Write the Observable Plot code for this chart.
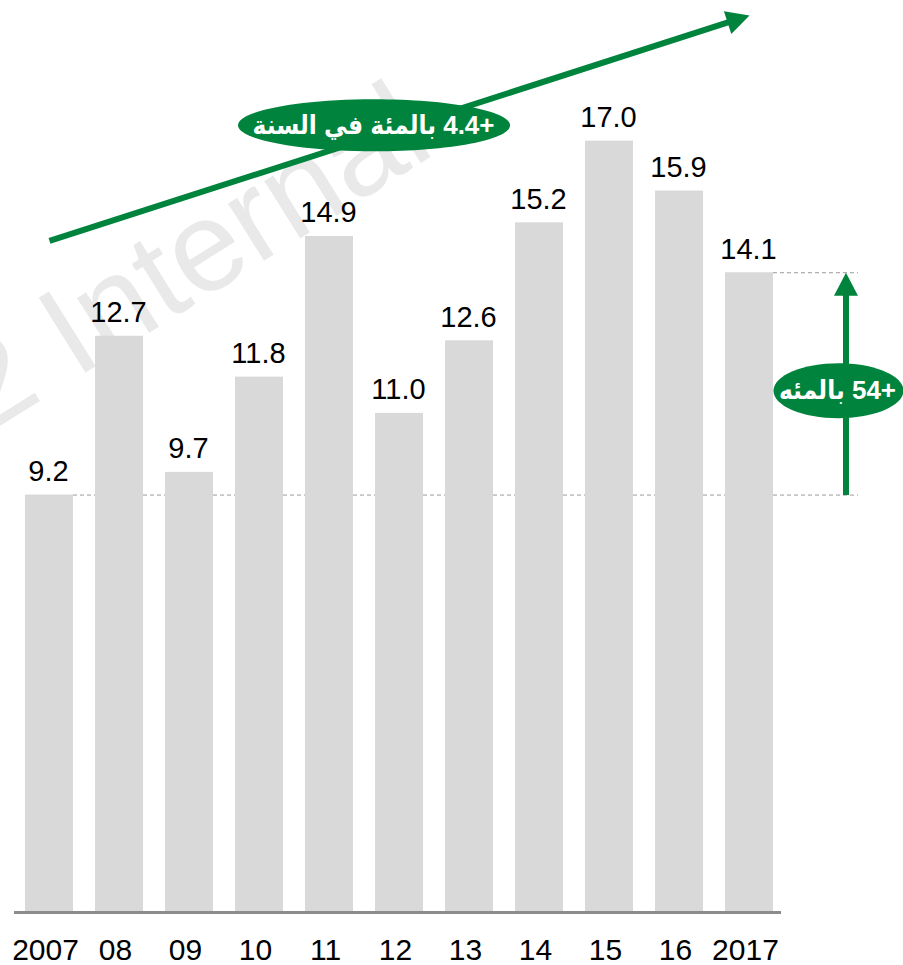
<!DOCTYPE html>
<html>
<head>
<meta charset="utf-8">
<script src="https://cdn.jsdelivr.net/npm/d3@7"></script>
<script src="https://cdn.jsdelivr.net/npm/@observablehq/plot@0.6"></script>
<style>
  html, body { margin: 0; padding: 0; background: #fff; }
  #chart svg { display: block; }
</style>
</head>
<body>
<div id="chart"></div>
<script>
// ---- data ----
const years = ["2007", "08", "09", "10", "11", "12", "13", "14", "15", "16", "2017"];
const values = [9.2, 12.7, 9.7, 11.8, 14.9, 11.0, 12.6, 15.2, 17.0, 15.9, 14.1];

// trend annotation (data units)
const trendLine = [{from: "2007", to: "2017", y1: 14.8, y2: 19.77}];
const trendLabel = [{x: "11", y: 17.35, text: "+4.4 بالمئة في السنة"}];

// growth annotation (first vs last year)
const growthLine = [{x: "2017", y1: values[0], y2: values[values.length - 1]}];
const growthLabel = [{x: "2017", y: 11.5, text: "+54 بالمئه"}];

const refLines = [
  {y: values[0], from: "2007", to: "2017"},
  {y: values[values.length - 1], from: "2017", to: "2017"}
];

const watermark = ["2 Internal"];

const data = years.map((year, i) => ({year, value: values[i]}));

// ---- styles ----
const green = "#00843d";
const font = "'Liberation Sans', Arial, 'DejaVu Sans Condensed', 'DejaVu Sans', sans-serif";

function ellipseSymbol(rx, ry) {
  const k = 0.5523;
  return {
    draw(ctx) {
      ctx.moveTo(rx, 0);
      ctx.bezierCurveTo(rx, ry * k, rx * k, ry, 0, ry);
      ctx.bezierCurveTo(-rx * k, ry, -rx, ry * k, -rx, 0);
      ctx.bezierCurveTo(-rx, -ry * k, -rx * k, -ry, 0, -ry);
      ctx.bezierCurveTo(rx * k, -ry, rx, -ry * k, rx, 0);
      ctx.closePath();
    }
  };
}
// arrow head with its tip at the origin, pointing up
const headSymbol = {
  draw(ctx) {
    ctx.moveTo(0, 0);
    ctx.lineTo(-12, 23);
    ctx.lineTo(12, 23);
    ctx.closePath();
  }
};

const chart = Plot.plot({
  width: 903,
  height: 965,
  marginLeft: 25,
  marginRight: 130,
  marginTop: 0,
  marginBottom: 53,
  style: {fontFamily: font, background: "#fff", overflow: "visible"},
  x: {domain: years, paddingInner: 0.314, paddingOuter: 0, round: false, axis: null},
  y: {domain: [0, 20.1], axis: null},
  marks: [
    Plot.text(watermark, {
      frameAnchor: "top-left", dx: 412, dy: 152, textAnchor: "end", lineAnchor: "bottom",
      rotate: -32, fontSize: 128, fill: "#e9e9e9", text: d => d
    }),
    Plot.ruleY(refLines, {
      y: "y", x1: "from", x2: "to", insetLeft: 48, insetRight: -85,
      stroke: "#9a9a9a", strokeWidth: 1, strokeDasharray: "4,3"
    }),
    Plot.barY(data, {x: "year", y: "value", fill: "#d9d9d9"}),
    Plot.ruleY([0], {stroke: "#8c8c8c", strokeWidth: 3, insetLeft: -11, insetRight: -8}),
    Plot.text(data, {
      x: "year", y: "value", text: d => d.value.toFixed(1),
      lineAnchor: "bottom", dy: -14, dx: -1, fontSize: 29, fill: "#000"
    }),
    Plot.text(years, {
      x: d => d, frameAnchor: "bottom", text: d => d,
      lineAnchor: "bottom", dy: 47, dx: -4, fontSize: 30, fill: "#000"
    }),
    // trend arrow
    Plot.arrow(trendLine, {
      x1: "from", y1: "y1", x2: "to", y2: "y2",
      stroke: green, strokeWidth: 6, headLength: 0, insetEnd: 12, strokeLinecap: "butt"
    }),
    Plot.dot(trendLine, {
      x: "to", y: "y2", symbol: headSymbol, rotate: 72, fill: green, stroke: "none", r: 10
    }),
    // growth arrow
    Plot.arrow(growthLine, {
      x1: "x", y1: "y1", x2: "x", y2: "y2", dx: 96.5,
      stroke: green, strokeWidth: 6, headLength: 0, insetEnd: 12, strokeLinecap: "butt"
    }),
    Plot.dot(growthLine, {
      x: "x", y: "y2", dx: 96.5, symbol: headSymbol, fill: green, stroke: "none", r: 10
    }),
    // labels in ellipses
    Plot.dot(trendLabel, {
      x: "x", y: "y", dx: 44.5, symbol: ellipseSymbol(136, 26), fill: green, stroke: "none", r: 10
    }),
    Plot.dot(growthLabel, {
      x: "x", y: "y", dx: 89, symbol: ellipseSymbol(65, 27.5), fill: green, stroke: "none", r: 10
    }),
    Plot.text(trendLabel, {
      x: "x", y: "y", dx: 44, text: "text", fill: "#fff", fontWeight: "bold", fontSize: 26,
      className: "arabic"
    }),
    Plot.text(growthLabel, {
      x: "x", y: "y", dx: 88, text: "text", fill: "#fff", fontWeight: "bold", fontSize: 26,
      className: "arabic"
    })
  ]
});

d3.select(chart).selectAll("g.arabic text").attr("direction", "rtl");
document.getElementById("chart").appendChild(chart);
</script>
</body>
</html>
